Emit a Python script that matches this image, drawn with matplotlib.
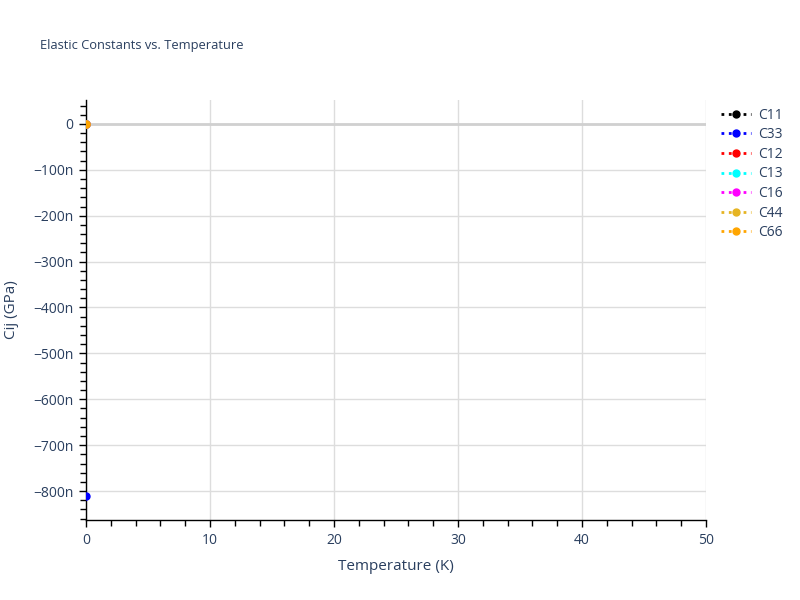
import matplotlib
matplotlib.use("Agg")
import matplotlib.pyplot as plt
from matplotlib.ticker import MultipleLocator, FuncFormatter
from matplotlib.lines import Line2D

temperature = [0]
series_names = ["C11", "C33", "C12", "C13", "C16", "C44", "C66"]
series_values = {
    "C11": [0.0],
    "C33": [-8.1e-7],
    "C12": [0.0],
    "C13": [0.0],
    "C16": [0.0],
    "C44": [0.0],
    "C66": [0.0],
}
series_colors = ["black", "blue", "red", "cyan", "magenta", "#e6b422", "orange"]

txt = "#2a3f5f"
plt.rcParams["font.family"] = ["Open Sans", "DejaVu Sans"]

fig = plt.figure(figsize=(8, 6), dpi=100)
ax = fig.add_axes([0.1075, 0.1333, 0.775, 0.70])

ax.axhline(0, color="#d0d0d0", lw=2, zorder=1)
for name, col in zip(series_names, series_colors):
    ln, = ax.plot(temperature, series_values[name], ls=":", lw=2, color=col,
                  marker="o", ms=5, zorder=3)
    ln.set_clip_path(ax.patch)

ax.set_xlim(0, 50)
ax.set_ylim(-8.63e-7, 0.52e-7)
ax.xaxis.set_major_locator(MultipleLocator(10))
ax.xaxis.set_minor_locator(MultipleLocator(2))
ax.yaxis.set_major_locator(MultipleLocator(1e-7))
ax.yaxis.set_minor_locator(MultipleLocator(2e-8))

def yfmt(v, pos):
    n = round(v * 1e9)
    if n == 0:
        return "0"
    return ("\u2212" if n < 0 else "") + f"{abs(n)}n"

ax.yaxis.set_major_formatter(FuncFormatter(yfmt))
ax.grid(True, which="major", color="#dddddd", lw=1, zorder=0)
ax.set_axisbelow(True)

for s in ["top", "right"]:
    ax.spines[s].set_visible(False)
for s in ["left", "bottom"]:
    ax.spines[s].set_color("black")
    ax.spines[s].set_linewidth(1)

ax.tick_params(which="major", direction="out", length=5, width=1, color="black",
               labelcolor=txt, labelsize=10, pad=4)
ax.tick_params(which="minor", direction="out", length=4, width=1, color="black")

ax.set_xlabel("Temperature (K)", color=txt, fontsize=11, labelpad=8)
ax.set_ylabel("Cij (GPa)", color=txt, fontsize=11, labelpad=10)

fig.text(0.05, 0.925, "Elastic Constants vs. Temperature", color=txt, fontsize=9.3,
         va="center", ha="left")

handles = [Line2D([0], [0], ls=":", lw=2, color=c, marker="o", ms=5)
           for c in series_colors]
leg = ax.legend(handles, series_names, loc="upper left", bbox_to_anchor=(1.015, 0.995),
                frameon=False, fontsize=10, labelcolor=txt, handlelength=2.2,
                handletextpad=0.5, labelspacing=0.33, borderaxespad=0)

fig.savefig("out.png", dpi=100, facecolor="white")
